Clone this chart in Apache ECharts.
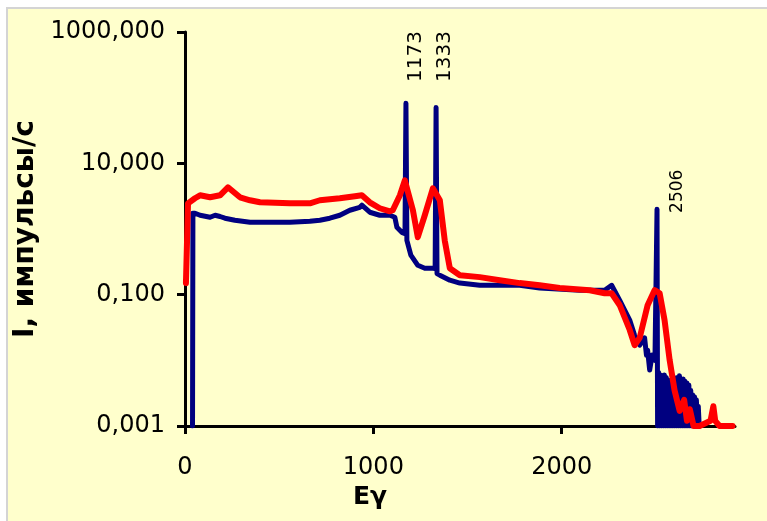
<!DOCTYPE html>
<html>
<head>
<meta charset="utf-8">
<script src="https://cdn.jsdelivr.net/npm/echarts@6/dist/echarts.min.js"></script>
<style>
  html, body { margin: 0; padding: 0; background: #fff; overflow: hidden; }
  #frame {
    position: absolute; left: 6px; top: 7px; width: 780px; height: 540px;
    background: #ffffcc; border-left: 2px solid #d4d4d4; border-top: 2px solid #d4d4d4;
  }
  #chart { position: absolute; left: 0; top: 0; width: 767px; height: 521px; }
</style>
</head>
<body>
<div id="frame"></div>
<div id="chart"></div>
<script>
// спектр без фильтра (синий)
const blueE = [40, 42, 53, 80, 133, 160, 186, 212, 265, 345, 557, 663, 716, 769, 822, 875, 928, 939, 981, 1034,
  1088, 1114, 1125, 1151, 1168, 1173, 1178, 1199, 1236, 1273, 1316, 1328, 1333, 1338, 1353, 1406, 1459, 1565,
  1671, 1777, 1883, 2095, 2228, 2265, 2308, 2361, 2387, 2414, 2430, 2440, 2450, 2456, 2467, 2480, 2495, 2503,
  2506, 2509,
  2515, 2520, 2525, 2530, 2535, 2540, 2545, 2550, 2555, 2560, 2565, 2570, 2575, 2580, 2585, 2590, 2595, 2600,
  2605, 2610, 2615, 2620, 2625, 2630, 2635, 2640, 2645, 2650, 2655, 2660, 2665, 2670, 2675, 2680, 2685, 2690,
  2695, 2700, 2705, 2710, 2715, 2720, 2725, 2730]
const blueI = [0.001, 1.74, 1.74, 1.62, 1.51, 1.62, 1.55, 1.46, 1.36, 1.27, 1.27, 1.31, 1.36, 1.46, 1.62, 1.93, 2.14, 2.3, 1.8, 1.62,
  1.62, 1.51, 1.06, 0.89, 0.85, 82, 0.67, 0.4, 0.28, 0.253, 0.253, 0.25, 71, 0.21, 0.198, 0.166, 0.15, 0.139,
  0.139, 0.139, 0.126, 0.117, 0.117, 0.139, 0.082, 0.041, 0.024, 0.017, 0.02, 0.022, 0.012, 0.0143, 0.0071, 0.012, 0.01, 0.01,
  2.0, 0.001,
  0.0065, 0.001, 0.006, 0.001, 0.0055, 0.001, 0.006, 0.001, 0.0055, 0.001, 0.005, 0.001, 0.0045, 0.001, 0.005, 0.001, 0.0055, 0.001,
  0.005, 0.001, 0.0055, 0.001, 0.0058, 0.001, 0.005, 0.001, 0.0052, 0.001, 0.0048, 0.001, 0.0045, 0.001, 0.0042, 0.001, 0.0035, 0.001,
  0.003, 0.001, 0.0028, 0.001, 0.0025, 0.001, 0.002, 0.001]

// спектр с фильтром (красный)
const redE = [5, 16, 53, 80, 133, 186, 228, 292, 345, 398, 557, 663, 716, 822, 902, 939, 981, 1034, 1088, 1103,
  1141, 1167, 1210, 1236, 1273, 1316, 1353, 1379, 1406, 1459, 1565, 1671, 1777, 1883, 1989, 2149, 2228, 2265,
  2308, 2361, 2387, 2414, 2456, 2493, 2520, 2546, 2573, 2599, 2626, 2650, 2665, 2680, 2700, 2732, 2790, 2805,
  2815, 2838, 2907]
const redI = [0.15, 2.46, 2.94, 3.26, 3.04, 3.26, 4.32, 3.04, 2.74, 2.55, 2.46, 2.46, 2.74, 2.94, 3.15, 3.26, 2.55, 2.07, 1.86, 1.93,
  3.26, 5.5, 1.93, 0.75, 1.62, 4.17, 2.74, 0.67, 0.253, 0.198, 0.185, 0.166, 0.15, 0.139, 0.126, 0.117, 0.105, 0.105,
  0.069, 0.029, 0.017, 0.022, 0.069, 0.117, 0.105, 0.041, 0.0101, 0.0035, 0.0017, 0.0025, 0.0012, 0.0018, 0.001, 0.001, 0.0012, 0.002,
  0.0012, 0.001, 0.001]

// подписи пиков: [текст, положение подписи по x, положение по y]
const peakLabels = [['1173', 1225, 424], ['1333', 1379, 424], ['2506', 2615, 3.75]]

const xTicks = [0, 1000, 2000]
const yTicks = [0.001, 0.1, 10, 1000]

const font = 'DejaVu Sans'
const chart = echarts.init(document.getElementById('chart'), null, { renderer: 'canvas' })

const toPairs = (xs, ys) => xs.map((x, i) => [x, ys[i]])

const option = {
  animation: false,
  backgroundColor: 'transparent',
  grid: { left: 185, right: 32, top: 32, bottom: 95, containLabel: false, outerBoundsMode: 'none' },
  xAxis: {
    type: 'value',
    min: 0,
    max: 2920,
    interval: 1000,
    name: 'Eγ',
    nameLocation: 'middle',
    nameGap: 56,
    nameTextStyle: { fontFamily: font, fontSize: 25, fontWeight: 'bold', color: '#000', padding: [0, 180, 0, 0] },
    axisLine: { lineStyle: { color: '#000', width: 3 } },
    axisTick: { show: true, length: 8, lineStyle: { width: 3, color: '#000' }, customValues: xTicks },
    axisLabel: {
      fontFamily: font, fontSize: 24, color: '#000', margin: 30, customValues: xTicks,
      formatter: v => String(v)
    },
    splitLine: { show: false }
  },
  yAxis: {
    type: 'log',
    logBase: 10,
    min: 0.001,
    max: 1000,
    name: 'I, импульсы/с',
    nameLocation: 'middle',
    nameGap: 141,
    nameTextStyle: { fontFamily: font, fontSize: 28, fontWeight: 'bold', color: '#000' },
    axisLine: { show: true, lineStyle: { color: '#000', width: 3 } },
    axisTick: { show: true, length: 8, lineStyle: { width: 3, color: '#000' }, customValues: yTicks },
    axisLabel: {
      fontFamily: font, fontSize: 24, color: '#000', margin: 20, customValues: yTicks,
      formatter: v => Number(v).toFixed(3).replace('.', ',')
    },
    splitLine: { show: false }
  },
  series: [
    {
      name: 'blue',
      type: 'line',
      data: toPairs(blueE, blueI),
      symbol: 'none',
      lineStyle: { color: '#000080', width: 5, join: 'round', cap: 'round' },
      markPoint: {
        symbol: 'rect',
        symbolSize: 0,
        label: { show: true, rotate: 90, position: 'inside', fontFamily: font, color: '#000' },
        data: peakLabels.map((p, i) => ({
          coord: [p[1], p[2]],
          label: { formatter: p[0], fontSize: i < 2 ? 20 : 17 }
        }))
      },
      z: 2
    },
    {
      name: 'red',
      type: 'line',
      data: toPairs(redE, redI),
      symbol: 'none',
      lineStyle: { color: '#ff0000', width: 6, join: 'round', cap: 'round' },
      z: 3
    }
  ]
}

chart.setOption(option)
</script>
</body>
</html>
